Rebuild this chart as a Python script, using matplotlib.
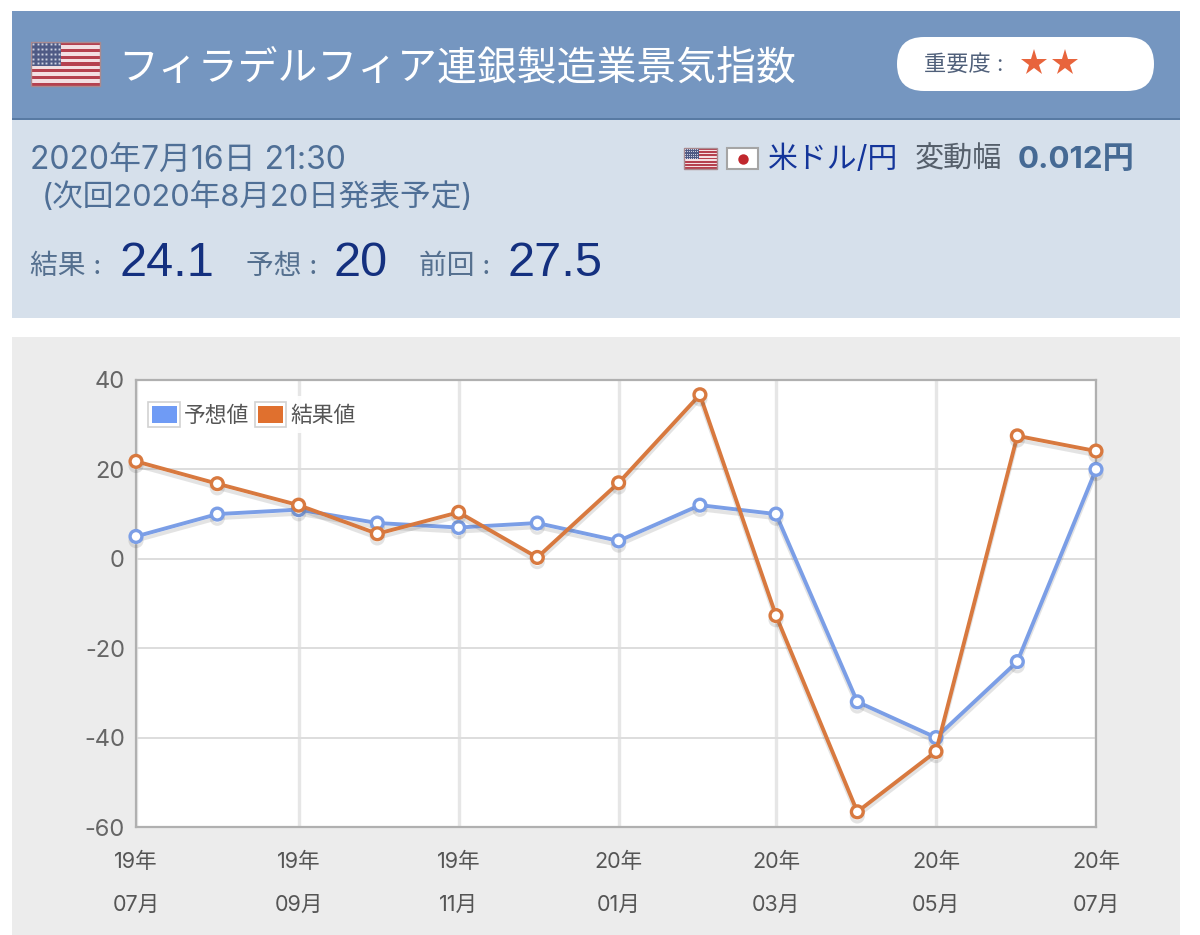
import datetime as dt
import matplotlib
matplotlib.use('Agg')
import matplotlib.pyplot as plt
import matplotlib.patheffects as pe
from matplotlib.legend_handler import HandlerBase
from matplotlib.patches import FancyBboxPatch, Patch, Rectangle

plt.rcParams['font.family'] = ['Inter', 'Noto Sans CJK JP', 'DejaVu Sans']
plt.rcParams['axes.unicode_minus'] = False
HELV = ['Liberation Sans', 'Noto Sans CJK JP', 'DejaVu Sans']

# data
months = [dt.date(2019, m, 1) for m in range(7, 13)] + [dt.date(2020, m, 1) for m in range(1, 8)]
forecast = [5, 10, 11, 8, 7, 8, 4, 12, 10, -32, -40, -23, 20]
actual = [21.8, 16.8, 12, 5.6, 10.4, 0.3, 17, 36.7, -12.7, -56.6, -43.1, 27.5, 24.1]
tick_months = months[::2]
tick_labels = ['%02d年\n%02d月' % (d.year % 100, d.month) for d in tick_months]
yticks = [-60, -40, -20, 0, 20, 40]
series_names = ['予想値', '結果値']
title = 'フィラデルフィア連銀製造業景気指数'
release = '2020年7月16日 21:30'
next_release = '(次回2020年8月20日発表予定)'
results = [('結果 :', '24.1'), ('予想 :', '20'), ('前回 :', '27.5')]

BLUE = '#7b9ee6'
ORANGE = '#d8793f'

fig = plt.figure(figsize=(12, 9.35), dpi=100, facecolor='white')

# page background, in pixel coordinates
bg = fig.add_axes([0, 0, 1, 1], zorder=0)
bg.set_xlim(0, 1200)
bg.set_ylim(935, 0)
bg.axis('off')


def rect(x, y, w, h, **kw):
    bg.add_patch(Rectangle((x, y), w, h, lw=kw.pop('lw', 0), **kw))


def us_flag(x, y, w, h):
    for i in range(13):
        rect(x, y + i * h / 13, w, h / 13 + .3, color='#b5414f' if i % 2 == 0 else '#f3dfe2')
    rect(x, y, w * .44, h * 7 / 13, color='#4f5a85')
    for i in range(5):
        for j in range(7):
            bg.plot(x + (j + .5) * w * .44 / 7, y + (i + .5) * h * .108, 's', ms=w / 50,
                    color='#cfd3e2', mew=0)
    rect(x, y, w, h, fill=False, ec='#a98a8f', lw=1)


rect(12, 11, 1168, 107, color='#7596c0')
rect(12, 118, 1168, 2, color='#587aa3')
rect(12, 120, 1168, 198, color='#d6e0eb')
rect(12, 337, 1168, 598, color='#ececec')

us_flag(31, 42, 69, 44)
bg.text(118, 69, title, color='white', fontsize=28.7, va='center', ha='left')

bg.add_patch(FancyBboxPatch((897, 37), 257, 54, boxstyle='round,pad=0,rounding_size=27',
                            fc='white', ec='none'))
bg.text(924, 64, '重要度 :', color='#50607a', fontsize=16, va='center', ha='left')
bg.plot([1034, 1065], [63, 63], '*', ms=20, color='#e8643c', mew=0)

bg.text(30, 161, release, color='#4f6f96', fontsize=23, va='center', ha='left')
bg.text(42, 197, next_release, color='#4f6f96', fontsize=22.1, va='center', ha='left')

for (lab, val), xl, xv in zip(results, [30, 246, 419], [120, 333, 508]):
    bg.text(xl, 267, lab, color='#55708f', fontsize=20, va='center', ha='left')
    bg.text(xv, 263, val, color='#14307f', fontsize=35, family=HELV, va='center', ha='left')

us_flag(684, 148, 33, 21)
rect(727, 148, 31, 21, fc='white', ec='#a5a5a5', lw=1.5)
bg.plot(742.5, 158.5, 'o', ms=7.5, color='#c0272d', mew=0)
bg.text(768, 160, '米ドル/円', color='#14359a', fontsize=21.5, va='center', ha='left')
bg.text(915, 160, '変動幅', color='#555f6b', fontsize=21, va='center', ha='left')
bg.text(1018, 160, '0.012円', color='#466a94', fontsize=22.5, fontweight='bold', va='center', ha='left')

# chart
ax = fig.add_axes([136 / 1200, (935 - 827) / 935, 960 / 1200, 447 / 935], zorder=1)
ax.set_facecolor('white')
shadow = [pe.SimpleLineShadow(offset=(0, -3), shadow_color='#555555', alpha=.16), pe.Normal()]
for values, color, name in zip([forecast, actual], [BLUE, ORANGE], series_names):
    ax.plot(months, values, '-o', color=color, lw=2.8, ms=8.5, mfc='white', mew=2.4,
            clip_on=False, label=name, path_effects=shadow, zorder=3)

ax.set_xlim(months[0], months[-1])
ax.set_ylim(-60, 40)
ax.set_yticks(yticks)
ax.set_xticks(tick_months)
ax.set_xticklabels(tick_labels, linespacing=2.45)
ax.tick_params(axis='x', length=0, pad=17.5, labelsize=15.5, labelcolor='#555555')
ax.tick_params(axis='y', length=0, pad=8, labelsize=17, labelcolor='#666666')
ax.grid(True, axis='y', color='#dddddd', lw=1.4)
ax.grid(True, axis='x', color='#e6e6e6', lw=2.4)
ax.set_axisbelow(True)
for s in ax.spines.values():
    s.set_color('#b0b0b0')
    s.set_linewidth(1.6)


class BoxHandler(HandlerBase):
    # coloured swatch inside a pale outlined box
    def create_artists(self, legend, orig, xd, yd, w, h, fontsize, trans):
        outer = Rectangle((-xd, -yd), w, h, fc='white', ec='#d2d2d2', lw=1.2, transform=trans)
        inner = Rectangle((-xd + 2.4, -yd + 2.4), w - 4.8, h - 4.8, fc=orig.get_facecolor(),
                          ec='none', transform=trans)
        return [outer, inner]


handles = [Patch(color='#6f9bf5', label=series_names[0]), Patch(color='#e0702e', label=series_names[1])]
ax.legend(handles=handles, handler_map={Patch: BoxHandler()}, loc='upper left',
          bbox_to_anchor=(.006, .965), ncol=2, frameon=True, framealpha=.9, facecolor='white',
          edgecolor='none', labelcolor='#555555', handlelength=1.45, handleheight=1.35,
          handletextpad=.18, columnspacing=.25, borderpad=.3, borderaxespad=0,
          prop={'family': HELV, 'size': 15.7})

fig.savefig('out.png', dpi=100)
